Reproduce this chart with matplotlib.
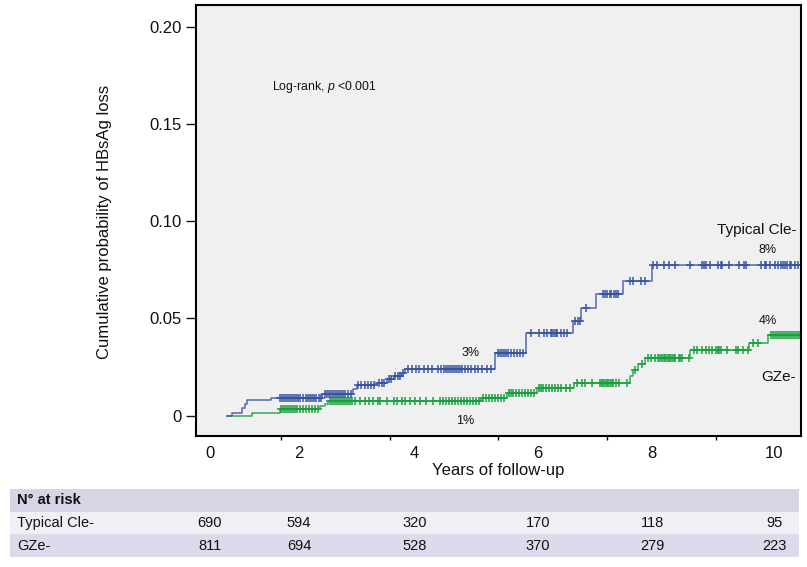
import numpy as np
import matplotlib
matplotlib.use('Agg')
import matplotlib.pyplot as plt
from matplotlib.transforms import blended_transform_factory

plt.rcParams['font.family'] = ['Liberation Sans', 'DejaVu Sans']
plt.rcParams['mathtext.fontset'] = 'custom'
plt.rcParams['mathtext.rm'] = 'Liberation Sans'
plt.rcParams['mathtext.it'] = 'Liberation Sans:italic'

# ---------------- data (years, cumulative probability) ----------------
typ_times = [0, 0.09, 0.28, 0.34, 0.37, 0.81, 1.75, 2.33, 2.39, 2.76, 2.94, 3.07,
             3.22, 3.28, 4.94, 5.51, 6.38, 6.52, 6.80, 7.29, 7.83]
typ_cuminc = [0, 0.0011, 0.0037, 0.0058, 0.0078, 0.0092, 0.0112, 0.0135, 0.0155,
              0.0169, 0.0186, 0.0203, 0.0220, 0.0238, 0.0320, 0.0425, 0.0484,
              0.0553, 0.0623, 0.0692, 0.0772]
typ_censor = [0.98, 1.02, 1.05, 1.09, 1.13, 1.16, 1.20, 1.24, 1.28, 1.31, 1.35, 1.40,
              1.46, 1.50, 1.53, 1.57, 1.61, 1.64, 1.70, 1.73,
              1.81, 1.85, 1.88, 1.92, 1.96, 1.99, 2.03, 2.07, 2.10, 2.14, 2.18, 2.23, 2.29,
              2.42, 2.47, 2.54, 2.60, 2.65, 2.71, 2.80, 2.86, 2.89, 2.99, 3.02, 3.10,
              3.15, 3.19, 3.24,
              3.34, 3.41, 3.48, 3.54, 3.63, 3.70, 3.78, 3.89, 3.94, 4.00, 4.04, 4.07,
              4.11, 4.15, 4.18, 4.22, 4.26, 4.29, 4.33, 4.38, 4.44, 4.49, 4.57, 4.62,
              4.70, 4.79, 4.86,
              4.99, 5.03, 5.06, 5.10, 5.14, 5.17, 5.23, 5.29, 5.34, 5.40, 5.45,
              5.59, 5.75, 5.84, 5.89, 5.97, 5.99, 6.02, 6.06, 6.08, 6.15, 6.21, 6.26,
              6.41, 6.46, 6.50, 6.61,
              6.92, 6.96, 7.00, 7.05, 7.07, 7.12, 7.16, 7.20,
              7.42, 7.48, 7.63, 7.70,
              7.85, 7.91, 8.04, 8.13, 8.25, 8.53, 8.75, 8.78, 8.81, 8.90, 9.03, 9.09,
              9.12, 9.25, 9.43, 9.52, 9.55, 9.83, 9.90, 9.93, 9.99, 10.08, 10.15,
              10.20, 10.24, 10.27, 10.30, 10.36, 10.39, 10.45, 10.52]

gze_times = [0, 0.46, 0.98, 1.72, 1.81, 1.87, 4.68, 5.15, 5.70, 6.39, 7.42, 7.48,
             7.57, 7.70, 8.53, 9.61, 9.96]
gze_cuminc = [0, 0.0014, 0.0032, 0.0049, 0.0058, 0.0075, 0.0092, 0.0117, 0.0143,
              0.0169, 0.0203, 0.0232, 0.0263, 0.0297, 0.0337, 0.0373, 0.0415]
gze_censor = [1.00, 1.04, 1.07, 1.11, 1.15, 1.18, 1.22, 1.26, 1.29, 1.35, 1.40, 1.46,
              1.51, 1.57, 1.62, 1.68,
              1.90, 1.94, 1.97, 2.01, 2.05, 2.08, 2.12, 2.16, 2.20, 2.23, 2.27, 2.31, 2.36,
              2.45, 2.54, 2.61, 2.70, 2.79, 2.82, 2.94, 3.07, 3.13, 3.22, 3.28, 3.37,
              3.46, 3.56, 3.67, 3.80,
              3.92, 3.98, 4.04, 4.09, 4.15, 4.20, 4.26, 4.31, 4.37, 4.42, 4.48, 4.53,
              4.59, 4.64,
              4.72, 4.77, 4.83, 4.88, 4.94, 4.99, 5.05, 5.10,
              5.20, 5.23, 5.27, 5.32, 5.38, 5.43, 5.49, 5.54, 5.60, 5.66,
              5.75, 5.78, 5.82, 5.88, 5.93, 5.99, 6.04, 6.10, 6.15, 6.24, 6.32,
              6.44, 6.53, 6.59, 6.72, 6.87, 6.90, 6.93, 6.96, 6.99, 7.02, 7.05, 7.08,
              7.11, 7.16, 7.21, 7.36,
              7.52, 7.64,
              7.75, 7.81, 7.88, 7.94, 7.97, 8.01, 8.04, 8.06, 8.10, 8.14, 8.15, 8.19,
              8.23, 8.25, 8.32, 8.34, 8.37, 8.50,
              8.59, 8.66, 8.75, 8.81, 8.88, 8.93, 9.00, 9.03, 9.06, 9.09, 9.21, 9.37,
              9.40, 9.49, 9.59,
              9.68, 9.77,
              10.01, 10.05, 10.09, 10.12, 10.16, 10.20, 10.24, 10.27, 10.31, 10.35,
              10.38, 10.42, 10.46, 10.49, 10.53]
followup_end = 10.56

xtick_marks = [1, 3, 5, 7, 9]
xtick_labels = ['0', '2', '4', '6', '8', '10']
xtick_label_pos = [-0.31, 1.33, 3.45, 5.73, 7.83, 10.07]
ytick_vals = [0, 0.05, 0.10, 0.15, 0.20]
ytick_labels = ['0', '0.05', '0.10', '0.15', '0.20']

risk_groups = ['Typical Cle-', 'GZe-']
typ_at_risk = [690, 594, 320, 170, 118, 95]
gze_at_risk = [811, 694, 528, 370, 279, 223]

BLUE = '#3652a6'
GREEN = '#15a03c'
TXT = '#111111'

# ---------------- figure ----------------
W, H = 807, 567
fig = plt.figure(figsize=(W / 100, H / 100), dpi=100)
L, R, T, B = 196, 801, 5, 436
ax = fig.add_axes([L / W, 1 - B / H, (R - L) / W, (B - T) / H])
ax.set_facecolor('#f0f0f0')
x0, x1 = -0.565, 10.566
ax.set_xlim(x0, x1)
ax.set_ylim(-0.0105, 0.2111)


def step_value(times, vals, t):
    idx = np.searchsorted(np.asarray(times), np.asarray(t), side='right') - 1
    return np.asarray(vals)[idx]


for times, vals, cens, color in [(gze_times, gze_cuminc, gze_censor, GREEN),
                                 (typ_times, typ_cuminc, typ_censor, BLUE)]:
    tt = list(times) + [followup_end]
    vv = list(vals) + [vals[-1]]
    ax.step(tt, vv, where='post', color=color, lw=1.1, alpha=0.85)
    ax.plot(cens, step_value(times, vals, cens), ls='none', marker='+',
            ms=6, mew=1.2, color=color, alpha=0.9)

for s in ax.spines.values():
    s.set_linewidth(1.5)

ax.set_xticks(xtick_marks)
ax.set_xticklabels([])
ax.tick_params(axis='x', which='major', direction='out', length=3, width=1)
ax.set_xticks(xtick_label_pos, minor=True)
ax.set_xticklabels(xtick_labels, minor=True)
ax.tick_params(axis='x', which='minor', length=0, pad=7, labelsize=12, colors=TXT)
ax.set_yticks(ytick_vals)
ax.set_yticklabels(ytick_labels)
ax.tick_params(axis='y', direction='out', length=7, width=1, pad=3, labelsize=12,
               colors=TXT)

ax.text(0.83, 0.1689, 'Log-rank, $\\it{p}$ <0.001', fontsize=8.8, ha='left',
        va='center', color=TXT)
ax.text(10.48, 0.0954, 'Typical Cle-', fontsize=11, ha='right', va='center', color=TXT)
ax.text(9.96, 0.0849, '8%', fontsize=9, ha='center', va='center', color=TXT)
ax.text(4.48, 0.0323, '3%', fontsize=9, ha='center', va='center', color=TXT)
ax.text(4.39, -0.0028, '1%', fontsize=9, ha='center', va='center', color=TXT)
ax.text(9.96, 0.0486, '4%', fontsize=9, ha='center', va='center', color=TXT)
ax.text(10.48, 0.0200, 'GZe-', fontsize=11, ha='right', va='center', color=TXT)

fig.text(105 / W, 1 - 222 / H, 'Cumulative probability of HBsAg loss', rotation=90,
         ha='center', va='center', fontsize=12, color=TXT)
fig.text(498.5 / W, 1 - 471 / H, 'Years of follow-up', ha='center', va='center',
         fontsize=12, color=TXT)

# ---------------- at-risk table ----------------
tl, tr, tt_, tb = 10, 799, 489, 557
axt = fig.add_axes([tl / W, 1 - tb / H, (tr - tl) / W, (tb - tt_) / H])
scale = (x1 - x0) / (R - L)
axt.set_xlim(x0 + (tl - L) * scale, x0 + (tr - L) * scale)
axt.set_ylim(3, 0)
axt.axis('off')
axt.axhspan(0, 1, color='#d7d4e6', lw=0)
axt.axhspan(1, 2, color='#f0eff6', lw=0)
axt.axhspan(2, 3, color='#dddbeb', lw=0)
lab_x = 7 / (tr - tl)
btr = blended_transform_factory(axt.transAxes, axt.transData)
axt.text(lab_x, 0.5, 'N° at risk', transform=btr, fontsize=10.5, fontweight='bold',
         va='center', ha='left', color=TXT)
for row, (name, counts) in enumerate(zip(risk_groups, [typ_at_risk, gze_at_risk]), start=1):
    axt.text(lab_x, row + 0.5, name, transform=btr, fontsize=10.5, va='center',
             ha='left', color=TXT)
    for xp, n in zip(xtick_label_pos, counts):
        axt.text(xp, row + 0.5, str(n), fontsize=10.5, va='center', ha='center',
                 color=TXT)

fig.savefig('out.png', dpi=100)
